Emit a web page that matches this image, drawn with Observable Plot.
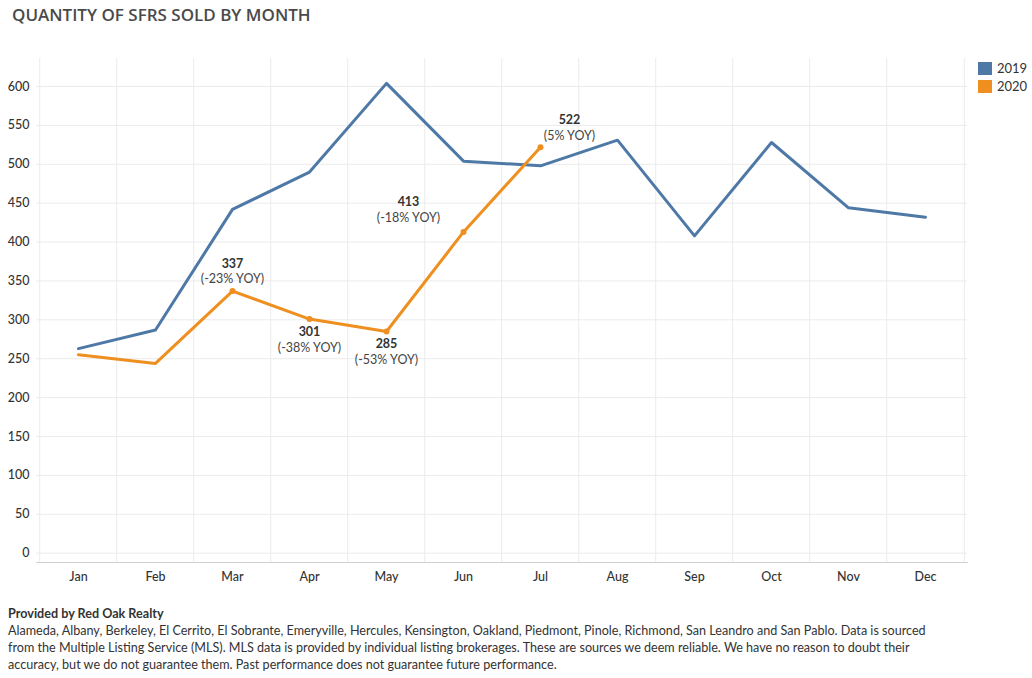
<!DOCTYPE html>
<html>
<head>
<meta charset="utf-8">
<script src="https://cdn.jsdelivr.net/npm/d3@7"></script>
<script src="https://cdn.jsdelivr.net/npm/@observablehq/plot@0.6"></script>
<style>
  html, body { margin: 0; padding: 0; background: #fff; }
  body { width: 1032px; height: 678px; position: relative; font-family: Lato, "Open Sans", sans-serif; overflow: hidden; }
  #title { position: absolute; left: 12px; top: 3px; font-family: "Open Sans", sans-serif; font-weight: 600; font-size: 17px; color: #4a4a4a; }
  #chart { position: absolute; left: 0; top: 40px; }
  #legend { position: absolute; left: 978px; top: 59px; font-size: 13px; color: #333; font-family: Lato, sans-serif; }
  #legend .row { display: flex; align-items: center; height: 18px; }
  #legend .sw { width: 14px; height: 13px; margin-right: 5px; }
  #footer { position: absolute; left: 8px; top: 605px; font-size: 12.6px; color: #333; line-height: 17px; font-family: Lato, sans-serif; }
  #footer b { font-weight: 700; }
</style>
</head>
<body>
<div id="title">QUANTITY OF SFRS SOLD BY MONTH</div>
<div id="chart"></div>
<div id="legend"></div>
<div id="footer"><b>Provided by Red Oak Realty</b><br>Alameda, Albany, Berkeley, El Cerrito, El Sobrante, Emeryville, Hercules, Kensington, Oakland, Piedmont, Pinole, Richmond, San Leandro and San Pablo. Data is sourced<br>from the Multiple Listing Service (MLS). MLS data is provided by individual listing brokerages. These are sources we deem reliable. We have no reason to doubt their<br>accuracy, but we do not guarantee them. Past performance does not guarantee future performance.</div>
<script>
const months = ["Jan","Feb","Mar","Apr","May","Jun","Jul","Aug","Sep","Oct","Nov","Dec"];
const sales2019 = [263, 287, 442, 490, 604, 504, 498, 531, 408, 528, 444, 432];
const sales2020 = [255, 244, 337, 301, 285, 413, 522];
const yoyLabels = [null, null, "(-23% YOY)", "(-38% YOY)", "(-53% YOY)", "(-18% YOY)", "(5% YOY)"];
const seriesNames = ["2019", "2020"];
const seriesColors = ["#4e79a7", "#ee8f1f"];
const yTicks = [0, 50, 100, 150, 200, 250, 300, 350, 400, 450, 500, 550, 600];
const yDomain = [-12, 636];

const rows = [];
sales2019.forEach((v, i) => rows.push({month: months[i], value: v, series: "2019", i}));
sales2020.forEach((v, i) => rows.push({month: months[i], value: v, series: "2020", i, yoy: yoyLabels[i]}));
const ann = rows.filter(d => d.series === "2020" && d.yoy);
const byMonth = m => ann.filter(d => d.month === m);

const W = 1032, H = 560, mL = 36, mR = 65;
const step = (W - mL - mR) / months.length;

const textMarks = [];
const place = {
  Mar: {dx: 0, dy1: -27, dy2: -12},
  Apr: {dx: 0, dy1: 13, dy2: 29},
  May: {dx: 0, dy1: 12, dy2: 28},
  Jun: {dx: -55, dy1: -30, dy2: -14},
  Jul: {dx: 29, dy1: -27, dy2: -11}
};
for (const m of Object.keys(place)) {
  const p = place[m];
  textMarks.push(Plot.text(byMonth(m), {x: "month", y: "value", text: d => String(d.value), dx: p.dx, dy: p.dy1, fontWeight: 700, fontSize: 12.5, fill: "#333"}));
  textMarks.push(Plot.text(byMonth(m), {x: "month", y: "value", text: "yoy", dx: p.dx, dy: p.dy2, fontSize: 12.5, fill: "#444"}));
}

const chart = Plot.plot({
  width: W, height: H,
  marginLeft: mL, marginRight: mR, marginTop: 18, marginBottom: 38,
  style: {fontFamily: "Lato, sans-serif", fontSize: "12.5px", color: "#333", background: "transparent"},
  x: {type: "point", domain: months, padding: 0.5, label: null},
  y: {domain: yDomain, label: null},
  color: {domain: seriesNames, range: seriesColors},
  marks: [
    Plot.ruleY(yTicks, {stroke: "#ebebeb", strokeWidth: 1}),
    Plot.ruleX(months, {x: d => d, dx: -step / 2, stroke: "#ebebeb", strokeWidth: 1}),
    Plot.ruleX(months.slice(-1), {x: d => d, dx: step / 2, stroke: "#ebebeb", strokeWidth: 1}),
    Plot.frame({anchor: "bottom", stroke: "#d0d0d0", strokeDasharray: "1,1"}),
    Plot.axisY(yTicks, {tickSize: 0, tickPadding: 7, fontWeight: 500, fill: "#333", fontSize: 12.5, label: null}),
    Plot.axisX({tickSize: 0, tickPadding: 10, fontWeight: 500, fill: "#333", fontSize: 12.5, label: null}),
    Plot.line(rows, {x: "month", y: "value", z: "series", stroke: "series", strokeWidth: 3, strokeLinejoin: "round"}),
    Plot.dot(ann, {x: "month", y: "value", r: 3, fill: "series"}),
    ...textMarks
  ]
});
document.getElementById("chart").appendChild(chart);

const legend = document.getElementById("legend");
seriesNames.forEach((s, i) => {
  const r = document.createElement("div");
  r.className = "row";
  r.innerHTML = `<span class="sw" style="background:${seriesColors[i]}"></span><span>${s}</span>`;
  legend.appendChild(r);
});
</script>
</body>
</html>
